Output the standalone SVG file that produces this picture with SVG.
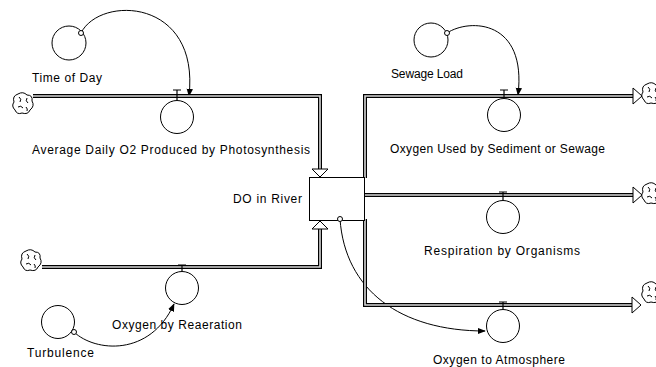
<svg xmlns="http://www.w3.org/2000/svg" width="656" height="367" viewBox="0 0 656 367">
<style>
  text { font-family: "Liberation Sans", Arial, sans-serif; font-size: 12px; fill: #000; }
  .pipeo { fill: none; stroke: #000; stroke-width: 4; stroke-linejoin: miter; }
  .pipei { fill: none; stroke: #d8d8d8; stroke-width: 1.6; stroke-linejoin: miter; }
  .aux { fill: #fff; stroke: #000; stroke-width: 1; }
  .head { fill: #fff; stroke: #000; stroke-width: 1; stroke-linejoin: miter; }
  .conn { fill: none; stroke: #000; stroke-width: 1; }
  .valve { fill: none; stroke: #000; stroke-width: 1.2; }
  .stock { fill: #fff; stroke: #000; stroke-width: 1; }
  .cloud { fill: #fff; stroke: #000; stroke-width: 1; }
</style>
<defs>
  <marker id="arr" viewBox="0 0 10 10" refX="9" refY="5" markerWidth="8" markerHeight="8" markerUnits="userSpaceOnUse" orient="auto">
    <path d="M0,1 L10,5 L0,9 z" fill="#000"/>
  </marker>
  <g id="cloudShape">
    <path class="cloud" d="M-5,-9 Q0,-12 4,-8 Q10,-8 9,-2 Q12,3 7,7 Q5,12 -1,10 Q-6,12 -8,7 Q-12,3 -9,-1 Q-11,-7 -5,-9 z"/>
    <path fill="none" stroke="#000" stroke-width="1" d="M-4,-6 Q-1,-4 -3,-1 M4,-5 Q2,-2 5,0 M-5,4 Q-2,2 0,5 M3,4 Q5,6 4,8"/>
  </g>
</defs>

<g id="connectors">
  <path class="conn" d="M81,33 C100,-5 200,-2 189,96" marker-end="url(#arr)"/>
  <path class="conn" d="M447,33 C470,18 527,20 518,95" marker-end="url(#arr)"/>
  <path class="conn" d="M74,332 C95,352 150,357 174,304" marker-end="url(#arr)"/>
  <path class="conn" d="M340,219 C345,290 400,331 485,331" marker-end="url(#arr)"/>
</g>

<g id="flow-photosynthesis">
  <use href="#cloudShape" x="23" y="103"/>
  <path class="pipeo" d="M33,96 H320 V170"/>
  <path class="pipei" d="M33,96 H320 V170"/>
  <path class="head" d="M312,169 L328,169 L320,177 z"/>
  <path class="valve" d="M173,90 H181 M177,90 V100"/>
  <circle class="aux" cx="177" cy="117" r="16.5"/>
  <text x="32" y="154" textLength="278" lengthAdjust="spacing">Average Daily O2 Produced by Photosynthesis</text>
</g>

<g id="flow-reaeration">
  <use href="#cloudShape" x="31" y="260"/>
  <path class="pipeo" d="M42,267 H320 V228"/>
  <path class="pipei" d="M42,267 H320 V228"/>
  <path class="head" d="M312,229 L328,229 L320,221 z"/>
  <path class="valve" d="M178,265 H186 M182,265 V271"/>
  <circle class="aux" cx="182" cy="288" r="16.5"/>
  <text x="112" y="329" textLength="130" lengthAdjust="spacing">Oxygen by Reaeration</text>
</g>

<g id="flow-sewage">
  <path class="pipeo" d="M365,178 V96 H633"/>
  <path class="pipei" d="M365,178 V96 H633"/>
  <path class="head" d="M633,88 L633,104 L642,96 z"/>
  <use href="#cloudShape" x="652" y="93"/>
  <path class="valve" d="M500,90 H508 M504,90 V98"/>
  <circle class="aux" cx="504" cy="115" r="16.5"/>
  <text x="390" y="153" textLength="215" lengthAdjust="spacing">Oxygen Used by Sediment or Sewage</text>
</g>

<g id="flow-respiration">
  <path class="pipeo" d="M365,195 H633"/>
  <path class="pipei" d="M365,195 H633"/>
  <path class="head" d="M633,187 L633,203 L642,195 z"/>
  <use href="#cloudShape" x="652" y="193"/>
  <path class="valve" d="M499,192 H507 M503,192 V200"/>
  <circle class="aux" cx="503" cy="217" r="16.5"/>
  <text x="424" y="255" textLength="156" lengthAdjust="spacing">Respiration by Organisms</text>
</g>

<g id="flow-atmosphere">
  <path class="pipeo" d="M365,219 V305 H632"/>
  <path class="pipei" d="M365,219 V305 H632"/>
  <path class="head" d="M632,297 L632,313 L641,305 z"/>
  <use href="#cloudShape" x="652" y="292"/>
  <path class="valve" d="M499,302 H507 M503,302 V309"/>
  <circle class="aux" cx="503" cy="326" r="16.5"/>
  <text x="433" y="364" textLength="132" lengthAdjust="spacing">Oxygen to Atmosphere</text>
</g>

<g id="stock-do">
  <rect class="stock" x="309.5" y="177.5" width="55" height="43"/>
  <circle class="aux" cx="340" cy="219" r="2.5"/>
  <text x="233" y="203" textLength="69" lengthAdjust="spacing">DO in River</text>
</g>

<g id="aux-time">
  <circle class="aux" cx="69" cy="43" r="17"/>
  <circle class="aux" cx="81" cy="33" r="2.5"/>
  <text x="32" y="82" textLength="70" lengthAdjust="spacing">Time of Day</text>
</g>

<g id="aux-sewage">
  <circle class="aux" cx="431" cy="40" r="17"/>
  <circle class="aux" cx="447" cy="33" r="2.5"/>
  <text x="391" y="78" textLength="72" lengthAdjust="spacing">Sewage Load</text>
</g>

<g id="aux-turbulence">
  <circle class="aux" cx="58" cy="322" r="16.5"/>
  <circle class="aux" cx="74" cy="332" r="2.5"/>
  <text x="27" y="357" textLength="67" lengthAdjust="spacing">Turbulence</text>
</g>
</svg>
